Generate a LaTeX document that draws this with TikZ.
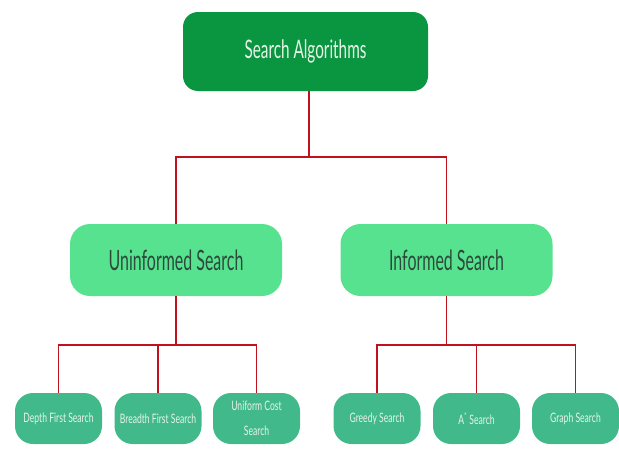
\documentclass[tikz,border=0pt]{standalone}
\usepackage{fontspec}
\setmainfont{Lato}[FakeStretch=0.74]
\newfontfamily\topfont{Lato}[FakeStretch=0.6]
\newfontfamily\midfont{Lato}[FakeStretch=0.57]
\newfontfamily\leaffont{Lato}[FakeStretch=0.66]
\definecolor{topgreen}{HTML}{0A9641}
\definecolor{midgreen}{HTML}{57E28F}
\definecolor{botgreen}{HTML}{42B98A}
\definecolor{midtext}{HTML}{2B4A3A}
\definecolor{toptext}{HTML}{E6F4E8}
\definecolor{linered}{HTML}{C0111F}
\tikzset{
  topbox/.style={fill=topgreen, rounded corners=15pt, minimum width=245pt, minimum height=79pt, text=toptext, font=\topfont\fontsize{25.5}{28}\selectfont, inner sep=0pt},
  midbox/.style={fill=midgreen, rounded corners=20pt, minimum width=212pt, minimum height=72pt, text=midtext, font=\midfont\fontsize{28}{30}\selectfont, inner sep=0pt},
  leafbox/.style={fill=botgreen, rounded corners=18pt, minimum width=87pt, minimum height=51pt, text=toptext, font=\leaffont\fontsize{13}{25}\selectfont, inner sep=0pt, align=center},
  conn/.style={draw=linered, line width=1.8pt}
}
\begin{document}
\begin{tikzpicture}[x=1pt,y=-1pt]
\useasboundingbox (0,0) rectangle (619,450);
\node[topbox] (top) at (305.5,51.5) {Search Algorithms};
\node[midbox] (uninf) at (176,260) {Uninformed Search};
\node[midbox] (inf) at (446.5,260) {Informed Search};
\node[leafbox] (dfs) at (58.5,418.5) {Depth First Search};
\node[leafbox] (bfs) at (158,418.5) {Breadth First Search};
\node[leafbox] (ucs) at (256.5,418.5) {Uniform Cost\\Search};
\node[leafbox] (greedy) at (377,418.5) {Greedy Search};
\node[leafbox] (astar) at (476.5,418.5) {A\textsuperscript{*} Search};
\node[leafbox] (graph) at (575.5,418.5) {Graph Search};
\coordinate (j1) at (0,157);
\coordinate (j2) at (0,345);
\draw[conn] ([xshift=3.5pt]top.south) -- ([xshift=3.5pt]top.south |- j1);
\draw[conn] (uninf.north) -- (uninf.north |- j1) -| (inf.north);
\draw[conn] (uninf.south) -- (uninf.south |- j2);
\draw[conn] (dfs.north) -- (dfs.north |- j2) -| (ucs.north);
\draw[conn] (bfs.north) -- (bfs.north |- j2);
\draw[conn] (inf.south) -- (inf.south |- j2);
\draw[conn] (greedy.north) -- (greedy.north |- j2) -| (graph.north);
\draw[conn] (astar.north) -- (astar.north |- j2);
\end{tikzpicture}
\end{document}
